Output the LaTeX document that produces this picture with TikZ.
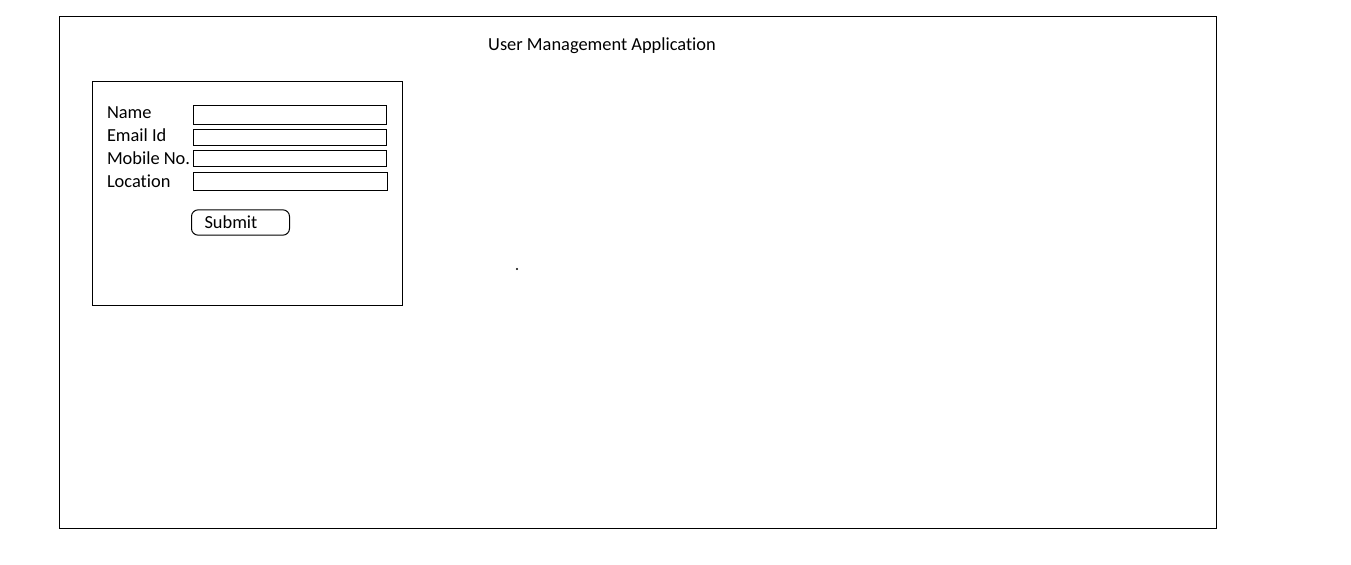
\documentclass[tikz,border=0pt]{standalone}
\usepackage{fontspec}
\setmainfont{Carlito}[Ligatures=CommonOff]
\usetikzlibrary{positioning}

\begin{document}
\begin{tikzpicture}[x=0.75pt,y=-0.75pt,line width=0.75pt,
  every node/.style={font=\fontsize{13.8}{16}\selectfont},
  frame/.style={draw,anchor=north west,inner sep=0pt},
  lbl/.style={anchor=base west,inner sep=0pt},
  field/.style={draw,anchor=north west,inner sep=0pt,minimum width=145pt},
  button/.style={draw,rounded corners=5pt,anchor=west,inner xsep=9.75pt,inner ysep=0pt,
                 text width=54pt,align=left,minimum height=19pt}]
  \useasboundingbox (0,0) rectangle (1351,564);
  \node[frame,minimum width=868pt,minimum height=384pt] (app) at (59,16) {};
  \node (title) at (602,45.5) {User Management Application};
  \node[frame,minimum width=232.5pt,minimum height=168pt] (form) at (92,81) {};
  % labels
  \node[lbl] (name) at (106.5,118) {Name};
  \node[lbl] (email) at (106.5,141) {Email Id};
  \node[lbl] (mobile) at (106.5,164) {Mobile No.};
  \node[lbl] (location) at (106.5,187) {Location};
  % text boxes
  \node[field,minimum height=14.25pt] (namebox) at (193,105) {};
  \node[field,minimum height=12pt] (emailbox) at (193,129) {};
  \node[field,minimum height=12pt] (mobilebox) at (193,150) {};
  \node[field,minimum height=13.5pt,minimum width=145.5pt] (locationbox) at (193,172) {};
  \node[button] (submit) at (191,222.5) {Submit};
  \fill (517,269) circle (0.8pt);
\end{tikzpicture}
\end{document}
